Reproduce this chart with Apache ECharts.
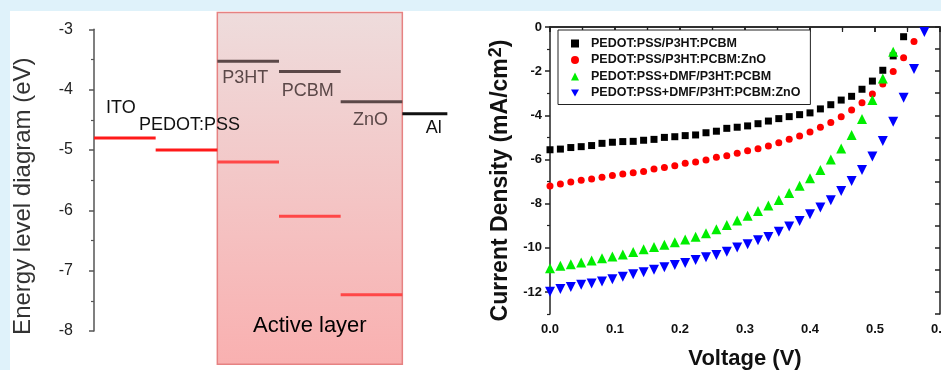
<!DOCTYPE html>
<html>
<head>
<meta charset="utf-8">
<script src="https://cdn.jsdelivr.net/npm/echarts@6/dist/echarts.min.js"></script>
<style>
html, body { margin: 0; padding: 0; background: #dff2fa; }
#chart { width: 941px; height: 370px; }
</style>
</head>
<body>
<div id="chart"></div>
<script>
// energy level diagram (left)
var layers = ['ITO', 'PEDOT:PSS', 'P3HT', 'PCBM', 'ZnO', 'Al'];
var upperLevel = [-4.8, -5.0, -3.53, -3.7, -4.2, -4.4];
var lowerLevel = [null, null, -5.2, -6.1, -7.4, null];
var activeLayer = [2, 5, -2.72, -8.55];   // from slot, to slot, top eV, bottom eV
var energyTicks = [-3, -4, -5, -6, -7, -8];

// J-V curves (right)
var voltage = [0, 0.016, 0.032, 0.048, 0.064, 0.08, 0.096, 0.112, 0.128, 0.144, 0.16, 0.176,
  0.192, 0.208, 0.224, 0.24, 0.256, 0.272, 0.288, 0.304, 0.32, 0.336, 0.352, 0.368, 0.384,
  0.4, 0.416, 0.432, 0.448, 0.464, 0.48, 0.496, 0.512, 0.528, 0.544, 0.56, 0.576];
var seriesNames = ['PEDOT:PSS/P3HT:PCBM', 'PEDOT:PSS/P3HT:PCBM:ZnO',
  'PEDOT:PSS+DMF/P3HT:PCBM', 'PEDOT:PSS+DMF/P3HT:PCBM:ZnO'];
var jRef = [-5.56, -5.53, -5.46, -5.42, -5.37, -5.27, -5.22, -5.19, -5.18, -5.13, -5.09, -5.00,
  -4.97, -4.92, -4.89, -4.79, -4.72, -4.59, -4.54, -4.48, -4.38, -4.26, -4.15, -4.06, -3.97,
  -3.89, -3.71, -3.52, -3.31, -3.14, -2.82, -2.45, -1.96, -1.31, -0.44];
var jZnO = [-7.20, -7.11, -7.02, -6.94, -6.88, -6.81, -6.73, -6.66, -6.60, -6.54, -6.43, -6.36,
  -6.28, -6.17, -6.11, -6.02, -5.90, -5.83, -5.72, -5.60, -5.51, -5.39, -5.24, -5.09, -4.94,
  -4.76, -4.54, -4.33, -4.06, -3.76, -3.43, -3.03, -2.58, -2.02, -1.39, -0.66];
var jDmf = [-10.93, -10.82, -10.75, -10.67, -10.58, -10.48, -10.39, -10.30, -10.19, -10.07,
  -9.96, -9.86, -9.75, -9.63, -9.50, -9.34, -9.16, -8.97, -8.76, -8.55, -8.33, -8.09, -7.84,
  -7.52, -7.19, -6.85, -6.48, -6.00, -5.50, -4.89, -4.17, -3.31, -2.33, -1.12];
var jDmfZnO = [-11.99, -11.87, -11.78, -11.68, -11.62, -11.53, -11.43, -11.31, -11.20, -11.11,
  -10.99, -10.88, -10.78, -10.69, -10.55, -10.43, -10.33, -10.18, -9.99, -9.84, -9.66, -9.51,
  -9.27, -9.04, -8.79, -8.48, -8.18, -7.85, -7.43, -6.97, -6.48, -5.87, -5.16, -4.29, -3.20,
  -1.90, -0.23];
var jTicksMajor = [0, -2, -4, -6, -8, -10, -12];
var jTicksMinor = [-1, -3, -5, -7, -9, -11, -13];

var FONT = '"Liberation Sans", Arial, sans-serif';
var chart = echarts.init(document.getElementById('chart'));

var levelData = [];
layers.forEach(function (name, i) {
  levelData.push([i, upperLevel[i], 0]);
  if (lowerLevel[i] != null) levelData.push([i, lowerLevel[i], 1]);
});

// label offsets from the middle of each upper line, px
var labelOffset = [[-4, -30], [3, -25], [-3, 17], [-2, 19], [-1, 18], [9, 14]];

function renderLevel(params, api) {
  var slot = api.value(0), e = api.value(1), kind = api.value(2);
  var inBox = slot >= activeLayer[0] && slot < activeLayer[1];
  var last = slot === layers.length - 1;
  var a = api.coord([slot, e]);
  var b = api.coord([slot + (last ? 0.73 : 1), e]);
  var color;
  if (kind === 1) color = '#ff4747';
  else if (inBox) color = '#5b4848';
  else color = last ? '#111' : '#ff1a1a';
  var kids = [{
    type: 'line',
    shape: { x1: a[0], y1: a[1], x2: b[0], y2: b[1] },
    style: { stroke: color, lineWidth: 3 }
  }];
  if (kind === 0) {
    kids.push({
      type: 'text',
      style: {
        text: layers[slot],
        x: (a[0] + b[0]) / 2 + labelOffset[slot][0],
        y: a[1] + labelOffset[slot][1],
        align: 'center', verticalAlign: 'middle',
        font: '18px ' + FONT,
        fill: inBox ? '#5b4848' : '#111'
      }
    });
  }
  return { type: 'group', children: kids };
}

function renderBox(params, api) {
  var p0 = api.coord([api.value(0), api.value(2)]);
  var p1 = api.coord([api.value(1), api.value(3)]);
  return {
    type: 'group',
    children: [{
      type: 'rect',
      shape: { x: p0[0], y: p0[1], width: p1[0] - p0[0], height: p1[1] - p0[1] },
      style: {
        fill: new echarts.graphic.LinearGradient(0, 0, 0, 1, [
          { offset: 0, color: '#eedcdc' }, { offset: 1, color: '#f9b0b0' }
        ]),
        stroke: '#e68282', lineWidth: 1.5
      }
    }, {
      type: 'text',
      style: {
        text: 'Active layer',
        x: (p0[0] + p1[0]) / 2, y: p1[1] - 38,
        align: 'center', verticalAlign: 'middle',
        font: '22px ' + FONT, fill: '#000'
      }
    }]
  };
}

function points(arr) {
  return arr.map(function (j, i) { return [voltage[i], j]; });
}

var boldLabel = { fontFamily: FONT, fontWeight: 'bold', fontSize: 13, color: '#111' };
var blackLine = { show: true, lineStyle: { color: '#222', width: 1.5 } };

var option = {
  animation: false,
  backgroundColor: '#dff2fa',
  graphic: [{
    type: 'rect', left: 10, top: 11, z: -10,
    shape: { width: 931, height: 359 },
    style: { fill: '#fff' }
  }],
  grid: [
    { left: 94, top: 29.3, width: 370, bottom: 39, outerBoundsMode: 'none' },
    { left: 550, top: 27, width: 390, bottom: 56, outerBoundsMode: 'none' }
  ],
  xAxis: [
    { gridIndex: 0, type: 'value', min: 0, max: 6, show: false },
    {
      gridIndex: 1, type: 'value', min: 0, max: 0.6, interval: 0.1, position: 'bottom',
      name: 'Voltage (V)', nameLocation: 'middle', nameGap: 34,
      nameTextStyle: { fontFamily: FONT, fontWeight: 'bold', fontSize: 22, color: '#111' },
      axisLine: blackLine,
      axisTick: { show: true, inside: false, length: 5, lineStyle: { color: '#222', width: 1.5 } },
      minorTick: { show: true, splitNumber: 2, length: 3, lineStyle: { color: '#222', width: 1.2 } },
      axisLabel: {
        show: true, margin: 9, showMinLabel: true, showMaxLabel: true,
        formatter: function (v) { return v.toFixed(1); },
        fontFamily: FONT, fontWeight: 'bold', fontSize: 13, color: '#111'
      },
      splitLine: { show: false }
    },
    {
      gridIndex: 1, type: 'value', min: 0, max: 0.6, interval: 0.1, position: 'top',
      axisLine: blackLine,
      axisTick: { show: true, inside: true, length: 5, lineStyle: { color: '#222', width: 1.5 } },
      minorTick: { show: true, splitNumber: 2, length: 5, lineStyle: { color: '#222', width: 1.2 } },
      axisLabel: { show: false },
      splitLine: { show: false }
    }
  ],
  yAxis: [
    {
      gridIndex: 0, type: 'value', min: -8, max: -3, interval: 1, offset: 13,
      name: 'Energy level diagram (eV)', nameLocation: 'middle', nameRotate: 90, nameGap: 46,
      nameTextStyle: { fontFamily: FONT, fontSize: 24, color: '#333', padding: [0, 32, 0, 0] },
      axisLine: { show: true, lineStyle: { color: '#555', width: 1.5 } },
      axisTick: { show: true, inside: false, length: 5, lineStyle: { color: '#555', width: 1.5 } },
      minorTick: { show: true, splitNumber: 2, length: 3, lineStyle: { color: '#555', width: 1.2 } },
      axisLabel: {
        show: true, margin: 8, customValues: energyTicks,
        fontFamily: FONT, fontSize: 16, color: '#222'
      },
      splitLine: { show: false }
    },
    {
      gridIndex: 1, type: 'value', min: -13, max: 0, interval: 1, position: 'left',
      name: 'Current Density (mA/cm{sup|2})', nameLocation: 'middle', nameRotate: 90, nameGap: 35,
      nameTextStyle: {
        fontFamily: FONT, fontWeight: 'bold', fontSize: 23, color: '#111',
        padding: [0, 20, 0, 0],
        rich: { sup: { fontFamily: FONT, fontWeight: 'bold', fontSize: 18, color: '#111', verticalAlign: 'top', padding: [0, 0, 10, 1] } }
      },
      axisLine: blackLine,
      axisTick: { show: true, inside: false, length: 5, customValues: jTicksMajor, lineStyle: { color: '#222', width: 1.5 } },
      axisLabel: Object.assign({ show: true, margin: 8, customValues: jTicksMajor }, boldLabel),
      splitLine: { show: false }
    },
    {
      gridIndex: 1, type: 'value', min: -13, max: 0, interval: 1, position: 'left',
      axisLine: { show: false },
      axisTick: { show: true, inside: false, length: 3, customValues: jTicksMinor, lineStyle: { color: '#222', width: 1.2 } },
      axisLabel: { show: false },
      splitLine: { show: false }
    },
    {
      gridIndex: 1, type: 'value', min: -13, max: 0, interval: 1, position: 'right',
      axisLine: blackLine,
      axisTick: { show: true, inside: true, length: 5, lineStyle: { color: '#222', width: 1.5 } },
      axisLabel: { show: false },
      splitLine: { show: false }
    }
  ],
  legend: {
    left: 558, top: 30, orient: 'vertical',
    backgroundColor: '#fff', borderColor: '#222', borderWidth: 1, borderRadius: 0,
    padding: [7, 10, 5, 13], itemGap: 3.5, itemWidth: 8, itemHeight: 8,
    textStyle: { fontFamily: FONT, fontWeight: 'bold', fontSize: 12.5, color: '#111', lineHeight: 12, padding: [0, 0, 0, 7] },
    data: seriesNames
  },
  series: [
    {
      type: 'custom', name: 'box', xAxisIndex: 0, yAxisIndex: 0, clip: false, z: 1,
      renderItem: renderBox, data: [activeLayer], silent: true
    },
    {
      type: 'custom', name: 'levels', xAxisIndex: 0, yAxisIndex: 0, clip: false, z: 2,
      renderItem: renderLevel, data: levelData, silent: true
    },
    {
      type: 'scatter', name: seriesNames[0], xAxisIndex: 1, yAxisIndex: 1,
      symbol: 'rect', symbolSize: 7, itemStyle: { color: '#000', opacity: 1 }, data: points(jRef)
    },
    {
      type: 'scatter', name: seriesNames[1], xAxisIndex: 1, yAxisIndex: 1,
      symbol: 'circle', symbolSize: 7, itemStyle: { color: '#ff0000', opacity: 1 }, data: points(jZnO)
    },
    {
      type: 'scatter', name: seriesNames[2], xAxisIndex: 1, yAxisIndex: 1,
      symbol: 'triangle', symbolSize: 10, itemStyle: { color: '#00ee00', opacity: 1 }, data: points(jDmf)
    },
    {
      type: 'scatter', name: seriesNames[3], xAxisIndex: 1, yAxisIndex: 1,
      symbol: 'path://M0,0L10,0L5,9Z', symbolSize: 10, itemStyle: { color: '#0000ff', opacity: 1 }, data: points(jDmfZnO)
    }
  ]
};

chart.setOption(option);
</script>
</body>
</html>
